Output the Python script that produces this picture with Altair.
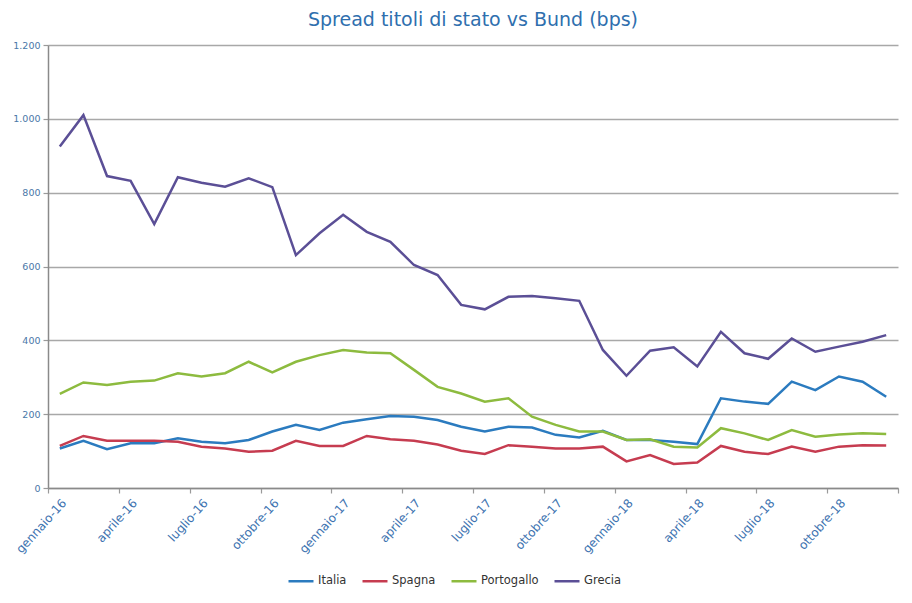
import altair as alt
import pandas as pd

months = [
    "gennaio-16", "febbraio-16", "marzo-16", "aprile-16", "maggio-16", "giugno-16",
    "luglio-16", "agosto-16", "settembre-16", "ottobre-16", "novembre-16", "dicembre-16",
    "gennaio-17", "febbraio-17", "marzo-17", "aprile-17", "maggio-17", "giugno-17",
    "luglio-17", "agosto-17", "settembre-17", "ottobre-17", "novembre-17", "dicembre-17",
    "gennaio-18", "febbraio-18", "marzo-18", "aprile-18", "maggio-18", "giugno-18",
    "luglio-18", "agosto-18", "settembre-18", "ottobre-18", "novembre-18", "dicembre-18",
]

italia = [107, 128, 105, 121, 121, 135, 125, 121, 130, 153, 171, 157,
          177, 186, 195, 193, 184, 166, 153, 166, 164, 144, 137, 155,
          130, 130, 125, 119, 243, 234, 228, 288, 265, 302, 288, 247]
spagna = [114, 141, 128, 128, 128, 125, 112, 107, 98, 101, 128, 114,
          114, 141, 132, 128, 118, 101, 92, 116, 112, 107, 107, 112,
          72, 89, 65, 69, 114, 98, 92, 112, 98, 112, 116, 115]
portogallo = [255, 286, 279, 288, 291, 311, 302, 311, 342, 313, 342, 360,
              374, 367, 365, 320, 274, 256, 234, 243, 193, 171, 153, 153,
              130, 132, 112, 110, 162, 148, 130, 157, 139, 145, 148, 146]
grecia = [925, 1010, 845, 832, 715, 842, 827, 816, 839, 815, 631, 690,
          740, 694, 667, 604, 577, 496, 484, 518, 520, 514, 507, 374,
          304, 372, 381, 329, 423, 365, 350, 405, 369, 383, 396, 414]

series = ["Italia", "Spagna", "Portogallo", "Grecia"]
colors = ["#2b7bbf", "#c63c50", "#8dbb3f", "#5b4f96"]
y_ticks = [0, 200, 400, 600, 800, 1000, 1200]

rows = []
for name, vals in zip(series, [italia, spagna, portogallo, grecia]):
    for i, (m, v) in enumerate(zip(months, vals)):
        rows.append({"idx": i, "mese": m, "serie": name, "spread": v})
df = pd.DataFrame(rows)

W, H = 850, 443
band = W / len(months)
tick_vals = [-0.5 + 3 * k for k in range(13)]
months_js = "[" + ",".join("'" + m + "'" for m in months) + "]"
x_label_expr = f"datum.value < 35 ? {months_js}[datum.value + 0.5] : ''"

chart = alt.Chart(df).mark_line(strokeWidth=2.5).encode(
    x=alt.X(
        "idx:Q",
        scale=alt.Scale(domain=[-0.5, 35.5], nice=False, zero=False),
        axis=alt.Axis(
            values=tick_vals, labelExpr=x_label_expr, title=None, grid=False,
            labelAngle=-48, labelAlign="right", labelBaseline="top",
            labelOffset=band / 2, labelPadding=4, labelFontSize=12,
            labelColor="#3d73b0", labelFont="DejaVu Sans",
            tickSize=5, tickColor="#9a9a9a", tickWidth=1.2,
            domainColor="#8a8a8a", domainWidth=1.5, labelOverlap=False,
        ),
    ),
    y=alt.Y(
        "spread:Q",
        scale=alt.Scale(domain=[0, 1200], nice=False),
        axis=alt.Axis(
            values=y_ticks, title=None, grid=True,
            labelExpr="replace(format(datum.value, ','), ',', '.')",
            gridColor="#a8a8a8", gridWidth=1.5,
            domainColor="#8a8a8a", domainWidth=1.5,
            tickSize=5, tickColor="#9a9a9a", tickWidth=1.2,
            labelFontSize=9.5, labelColor="#4a78a8", labelFont="DejaVu Sans",
            labelPadding=3,
        ),
    ),
    color=alt.Color(
        "serie:N",
        sort=series,
        scale=alt.Scale(domain=series, range=colors),
        legend=alt.Legend(
            title=None, orient="none", direction="horizontal",
            legendX=239, legendY=522, symbolType="stroke",
            symbolSize=625, symbolStrokeWidth=2.5, labelFontSize=11.5,
            labelColor="#333333", labelFont="DejaVu Sans", columnPadding=10,
            labelOffset=3, padding=0,
        ),
    ),
    detail="serie:N",
).properties(
    width=W,
    height=H,
    title=alt.TitleParams(
        "Spread titoli di stato vs Bund (bps)",
        fontSize=19, font="DejaVu Sans", fontWeight="normal",
        color="#2f6fae", anchor="middle", offset=10,
    ),
    autosize=alt.AutoSizeParams(type="none"),
    padding={"left": 40, "top": 37, "right": 6, "bottom": 107},
).configure_view(strokeWidth=0)

chart.save("out.html", embed_options={"renderer": "svg", "actions": False})
